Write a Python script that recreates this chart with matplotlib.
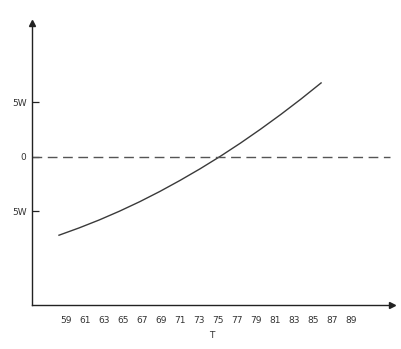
import numpy as np
import matplotlib.pyplot as plt

# curve (T, value in units of W)
t_vals = [58.26, 60.38, 62.50, 64.62, 66.75, 68.87, 70.99, 73.11, 75.23,
          77.35, 79.47, 81.60, 83.72, 85.84]
w_vals = [-7.20, -6.53, -5.80, -5.00, -4.13, -3.19, -2.18, -1.11, 0.03,
          1.24, 2.52, 3.87, 5.28, 6.76]

x_ticks = list(range(59, 90, 2))
y_ticks = [5, 0, -5]
y_labels = ['5W', '0', '5W']

fig = plt.figure(figsize=(4.02, 3.49), dpi=100)
ax = fig.add_axes([0.0796, 0.126, 0.8955, 0.808])

ax.plot(t_vals, w_vals, color='#3a3a3a', lw=1.0)
ax.axhline(0, xmin=0, xmax=0.994, color='#555555', lw=1.0, dashes=(7, 4))

ax.set_xlim(55.42, 93.3)
ax.set_ylim(-13.6, 12.25)

for s in ['top', 'right']:
    ax.spines[s].set_visible(False)
for s in ['left', 'bottom']:
    ax.spines[s].set_color('#222222')
    ax.spines[s].set_linewidth(1.0)

# arrow heads on the axes
ax.plot(1, 0, '>', color='#222222', ms=4, transform=ax.transAxes, clip_on=False)
ax.plot(0, 1, '^', color='#222222', ms=4, transform=ax.transAxes, clip_on=False)

ax.set_xticks(x_ticks)
ax.set_xticklabels([str(v) for v in x_ticks])
ax.tick_params(axis='x', length=0, pad=8, labelsize=6.5, labelcolor='#333333')

ax.set_yticks(y_ticks)
ax.set_yticklabels(y_labels)
ax.tick_params(axis='y', direction='in', length=5, width=0.9, pad=4,
               labelsize=6.5, labelcolor='#333333', color='#222222')

ax.set_xlabel('T', fontsize=6.5, color='#333333', labelpad=4)

fig.savefig('out.png', dpi=100)
